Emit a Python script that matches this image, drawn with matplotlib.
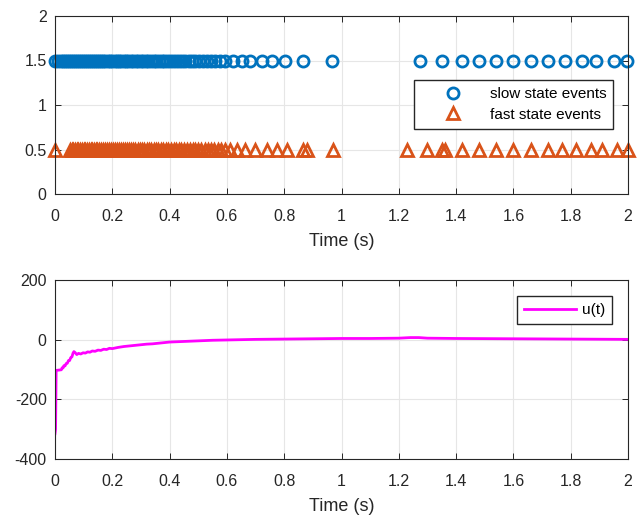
import matplotlib
matplotlib.use("Agg")
import matplotlib.pyplot as plt

plt.rcParams['font.family'] = ['Liberation Sans', 'DejaVu Sans']
plt.rcParams['axes.unicode_minus'] = False

# ---- data ----
slow_t = [0.000, 0.012, 0.020, 0.027, 0.034, 0.041, 0.048, 0.055, 0.062, 0.069,
          0.076, 0.083, 0.090, 0.097, 0.104, 0.111, 0.118, 0.125, 0.132, 0.139,
          0.146, 0.153, 0.160, 0.168, 0.176, 0.184, 0.192, 0.200, 0.208, 0.216,
          0.224, 0.232, 0.240, 0.248, 0.256, 0.264, 0.272, 0.281, 0.290, 0.299,
          0.308, 0.317, 0.326, 0.335, 0.344, 0.353, 0.362, 0.372, 0.382, 0.392,
          0.402, 0.412, 0.422, 0.433, 0.444, 0.455, 0.466, 0.478, 0.490, 0.503,
          0.516, 0.530, 0.545, 0.560, 0.575, 0.592, 0.621, 0.653, 0.681, 0.723,
          0.757, 0.803, 0.866, 0.967,
          1.274, 1.350, 1.420, 1.480, 1.540, 1.600, 1.660, 1.720, 1.780, 1.840,
          1.890, 1.950, 1.997]
fast_t = [0.000, 0.052, 0.058, 0.064, 0.070, 0.076, 0.082, 0.088, 0.094, 0.100,
          0.106, 0.112, 0.118, 0.124, 0.130, 0.136, 0.142, 0.148, 0.154, 0.160,
          0.167, 0.174, 0.181, 0.188, 0.195, 0.202, 0.209, 0.216, 0.223, 0.230,
          0.237, 0.244, 0.251, 0.258, 0.265, 0.272, 0.280, 0.288, 0.296, 0.304,
          0.312, 0.320, 0.328, 0.336, 0.344, 0.352, 0.360, 0.369, 0.378, 0.387,
          0.396, 0.405, 0.414, 0.423, 0.432, 0.441, 0.450, 0.460, 0.470, 0.480,
          0.490, 0.500, 0.511, 0.522, 0.533, 0.544, 0.556, 0.568, 0.580, 0.592,
          0.610, 0.635, 0.663, 0.698, 0.740, 0.775, 0.810, 0.866, 0.880, 0.970,
          1.230, 1.300, 1.350, 1.362, 1.420, 1.480, 1.540, 1.600, 1.660, 1.720,
          1.770, 1.820, 1.870, 1.910, 1.960, 2.000]
slow_level = 1.5
fast_level = 0.5

u_t = [0.000, 0.002, 0.004, 0.022, 0.025, 0.028, 0.031, 0.035, 0.039, 0.043,
       0.047, 0.051, 0.055, 0.059, 0.063, 0.066, 0.070, 0.076, 0.082, 0.090,
       0.098, 0.106, 0.114, 0.122, 0.130, 0.140, 0.150, 0.160, 0.170, 0.180,
       0.190, 0.200, 0.220, 0.240, 0.260, 0.280, 0.300, 0.320, 0.340, 0.360,
       0.380, 0.400, 0.450, 0.500, 0.550, 0.600, 0.700, 0.800, 0.900, 1.000,
       1.100, 1.200, 1.240, 1.270, 1.300, 1.400, 1.600, 1.800, 2.000]
u_v = [-315, -300, -103, -101, -94, -95, -87, -88, -80, -79,
       -70, -70, -60, -58, -45, -40, -43, -50, -46, -48,
       -44, -45, -41, -42, -38, -39, -35, -36, -32, -33,
       -29, -30, -26, -23, -21, -19, -17, -15, -14, -12,
       -10, -8, -6, -4, -2, -1, 1, 2, 3, 4,
       4, 5, 7, 7, 5, 4, 3, 2, 1]

blue = '#0072BD'
orange = '#D95319'
magenta = '#FF00FF'

fig = plt.figure(figsize=(6.37, 5.16), dpi=100)
W, H = 637, 516
ax1 = fig.add_axes([55 / W, 1 - 194 / H, 573 / W, 178 / H])
ax2 = fig.add_axes([55 / W, 1 - 459 / H, 573 / W, 179 / H])

ax1.plot(slow_t, [slow_level] * len(slow_t), 'o', ls='none', mfc='none',
         mec=blue, mew=2, ms=8, label='slow state events', clip_on=False)
ax1.plot(fast_t, [fast_level] * len(fast_t), '^', ls='none', mfc='none',
         mec=orange, mew=2, ms=9, label='fast state events', clip_on=False)
ax1.set_xlim(0, 2)
ax1.set_ylim(0, 2)
ax1.set_yticks([0, 0.5, 1, 1.5, 2])
ax1.set_yticklabels(['0', '0.5', '1', '1.5', '2'])
ax1.legend(loc='upper left', bbox_to_anchor=((414 - 55) / 573, 1 - (80 - 16) / 178),
           frameon=True, fancybox=False, edgecolor='#262626', fontsize=11,
           borderpad=0.45, borderaxespad=0, handletextpad=0.3, labelspacing=0.45,
           handlelength=4.2, framealpha=1)

ax2.plot(u_t, u_v, color=magenta, lw=2, label='u(t)')
ax2.set_xlim(0, 2)
ax2.set_ylim(-400, 200)
ax2.set_yticks([-400, -200, 0, 200])
ax2.legend(loc='upper right', bbox_to_anchor=(1 - (628 - 612) / 573, 1 - (296 - 280) / 179),
           frameon=True, fancybox=False, edgecolor='#262626', fontsize=11,
           borderpad=0.45, borderaxespad=0, handletextpad=0.4, handlelength=3.4,
           framealpha=1)

for ax in (ax1, ax2):
    ax.set_xticks([0, 0.2, 0.4, 0.6, 0.8, 1, 1.2, 1.4, 1.6, 1.8, 2])
    ax.set_xticklabels(['0', '0.2', '0.4', '0.6', '0.8', '1', '1.2', '1.4', '1.6', '1.8', '2'])
    ax.grid(True, color='#e6e6e6', lw=0.8)
    ax.set_axisbelow(True)
    ax.tick_params(direction='in', top=True, right=True, labelsize=11.5,
                   colors='#262626', length=4, width=0.7)
    ax.tick_params(axis='x', pad=10.5)
    ax.tick_params(axis='y', pad=6)
    for s in ax.spines.values():
        s.set_color('#262626')
        s.set_linewidth(0.8)
    ax.set_xlabel('Time (s)', fontsize=13, color='#262626', labelpad=6.5)

fig.savefig('out.png', dpi=100)
